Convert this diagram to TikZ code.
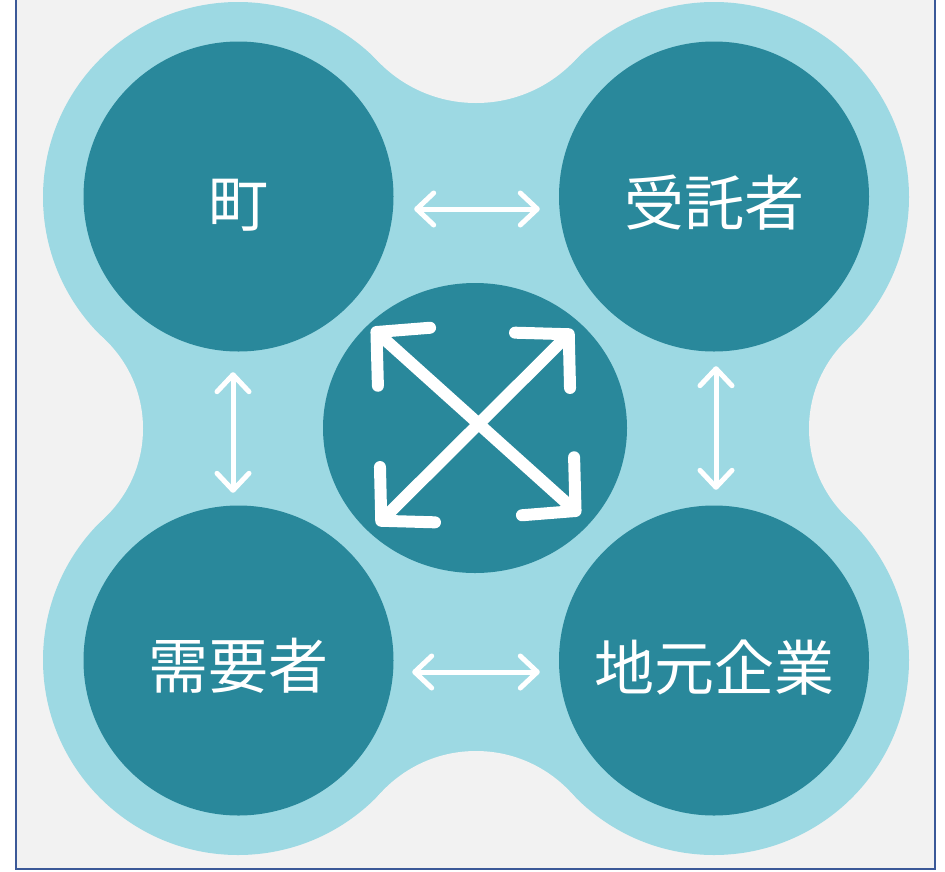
\documentclass[tikz,border=0pt]{standalone}
\usepackage{fontspec}
\newfontfamily\cjk{Noto Sans CJK JP}
\usetikzlibrary{arrows.meta,shapes.geometric}
\definecolor{bgc}{HTML}{F2F2F2}
\definecolor{lightc}{HTML}{9DD9E3}
\definecolor{darkc}{HTML}{29889B}
\definecolor{framec}{RGB}{59,89,152}
\begin{document}
\begin{tikzpicture}[x=1pt,y=-1pt,
  hubbox/.style={circle, fill=darkc, inner sep=0pt, minimum size=310pt},
  lbl/.style={text=white, font=\cjk\fontsize{60pt}{72pt}\selectfont, inner sep=0pt},
  link/.style={draw=white, line width=5pt, line cap=round,
    {Straight Barb[length=17pt,width=32pt,round]}-{Straight Barb[length=17pt,width=32pt,round]}},
  bigarrow/.style={draw=white, line width=12pt, line cap=round,
    {Straight Barb[length=37pt,width=78pt,round]}-{Straight Barb[length=37pt,width=78pt,round]}}
]
\useasboundingbox (0,0) rectangle (945,871);
\fill[white] (0,0) rectangle (945,871);
\fill[bgc] (16,-5) rectangle (935,869);
\begin{scope}
  \clip (16,-5) rectangle (935,869);
  \fill[lightc] (238,197) circle[radius=195pt] (714,197) circle[radius=195pt]
                (238,660) circle[radius=195pt] (714,660) circle[radius=195pt];
  \fill[lightc] (378.3,61.5) -- (573.7,61.5) -- (847.7,339) -- (847.7,518)
                -- (570.9,792.5) -- (381.1,792.5) -- (104.3,518) -- (104.3,339) -- cycle;
  \fill[bgc] (476,-32.9) circle[radius=135.9pt] (476,880.3) circle[radius=129.3pt]
             (20,428.5) circle[radius=123pt] (932,428.5) circle[radius=123pt];
\end{scope}
\draw[framec, line width=2.5pt] (16,-5) -- (16,869) -- (935,869) -- (935,-5);

\node[hubbox] (machi) at (238.5,196.5) {};
\node[hubbox] (jutaku) at (714,196.5) {};
\node[hubbox] (juyo) at (238.5,660.5) {};
\node[hubbox] (jimoto) at (714,660.5) {};
\node[ellipse, fill=darkc, inner sep=0pt, minimum width=304pt, minimum height=290pt] (hub) at (475,428) {};

\node[lbl] (tmachi) at (238,205) {町};
\node[lbl] (tjutaku) at (714,203) {受託者};
\node[lbl] (tjuyo) at (238,666) {需要者};
\node[lbl] (tjimoto) at (714,668) {地元企業};

\draw[link] ([xshift=20.5pt,yshift=-12.5pt]machi.east) -- ([xshift=-19pt,yshift=-12.5pt]jutaku.west);
\draw[link] ([xshift=18.5pt,yshift=-11.5pt]juyo.east) -- ([xshift=-19pt,yshift=-11.5pt]jimoto.west);
\draw[link] ([xshift=-5.5pt,yshift=-20.5pt]machi.south) -- ([xshift=-5.5pt,yshift=12.5pt]juyo.north);
\draw[link] ([xshift=2pt,yshift=-14.5pt]jutaku.south) -- ([xshift=2pt,yshift=15.5pt]jimoto.north);

\coordinate (xa) at (372,328);
\coordinate (xb) at (580,515);
\coordinate (xc) at (573,330);
\coordinate (xd) at (377,525);
\draw[bigarrow] (xa) -- (xb);
\draw[bigarrow] (xc) -- (xd);
\end{tikzpicture}
\end{document}
